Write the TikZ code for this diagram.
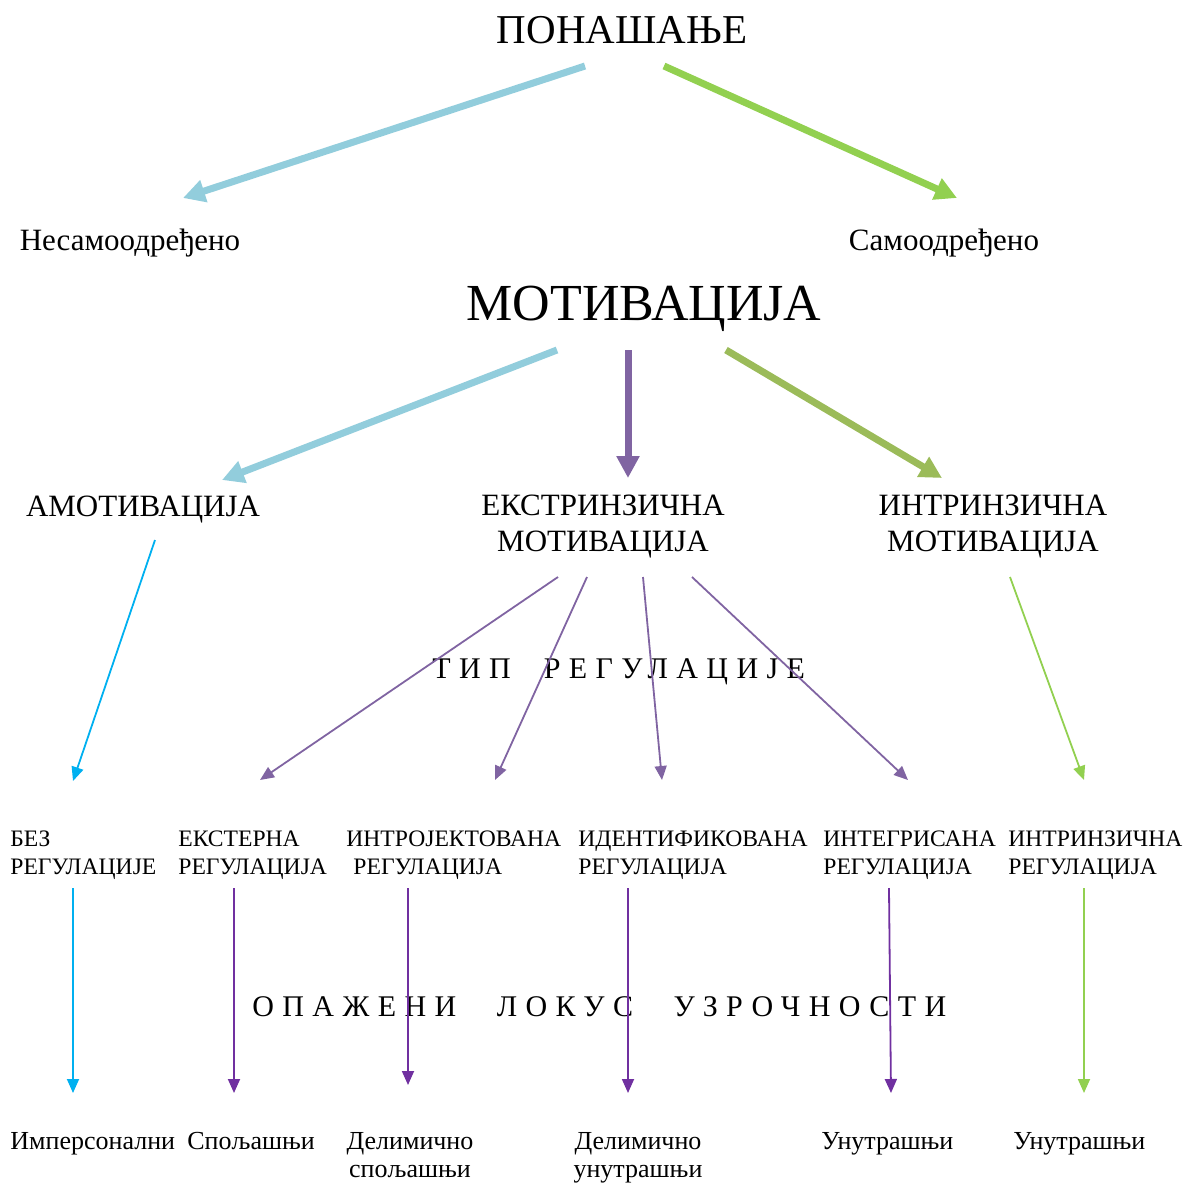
\documentclass[tikz,border=0pt]{standalone}
\usepackage{fontspec}
\setmainfont{Liberation Serif}
\newfontfamily\spacedfont[LetterSpace=28]{Liberation Serif}
\usetikzlibrary{arrows.meta, calc, positioning}
\definecolor{skyblue}{HTML}{92CDDC}
\definecolor{leafgreen}{HTML}{92D050}
\definecolor{lavender}{HTML}{8064A2}
\definecolor{olivegreen}{HTML}{9BBB59}
\definecolor{cyanline}{HTML}{00B0F0}
\definecolor{plum}{HTML}{7030A0}

\begin{document}
\begin{tikzpicture}[x=0.5pt,y=-0.5pt,inner sep=0pt,
    big/.style={line width=3.5pt,-{Triangle[length=11pt,width=11pt]}},
    slim/.style={line width=0.9pt,-{Triangle[length=7pt,width=6pt]}},
    head/.style={anchor=base,font=\fontsize{20.5}{24}\selectfont},
    level/.style={font=\fontsize{15.5}{18}\selectfont},
    reg/.style={anchor=north west,align=left,font=\fontsize{11.8}{14}\selectfont},
    locus/.style={font=\fontsize{13}{14}\selectfont}]

  \useasboundingbox (0,0) rectangle (1191,1184);

  \node[head]  (pon) at (622,43)  {ПОНАШАЊЕ};
  \node[level,anchor=base] (nes) at (130,250) {Несамоодређено};
  \node[level,anchor=base] (sam) at (944,250) {Самоодређено};
  \node[anchor=base,font=\fontsize{26}{30}\selectfont] (mot) at (644,320) {МОТИВАЦИЈА};

  \node[level,anchor=base]  (amot) at (143,516) {АМОТИВАЦИЈА};
  \node[level,anchor=north,align=center] (eks) at (603,495) {ЕКСТРИНЗИЧНА\\МОТИВАЦИЈА};
  \node[level,anchor=north,align=center] (int) at (993,495) {ИНТРИНЗИЧНА\\МОТИВАЦИЈА};

  \node[anchor=base west,font=\fontsize{15}{18}\spacedfont] (tip) at (432,678) {ТИП\hspace{1.1em}РЕГУЛАЦИЈЕ};

  \node[reg] (bez)   at (10,830)  {БЕЗ\\РЕГУЛАЦИЈЕ};
  \node[reg] (ekst)  at (178,830) {ЕКСТЕРНА\\РЕГУЛАЦИЈА};
  \node[reg] (intro) at (346,830) {ИНТРОЈЕКТОВАНА\\\hspace*{0.3em}РЕГУЛАЦИЈА};
  \node[reg] (ident) at (578,830) {ИДЕНТИФИКОВАНА\\РЕГУЛАЦИЈА};
  \node[reg] (integ) at (823,830) {ИНТЕГРИСАНА\\РЕГУЛАЦИЈА};
  \node[reg] (intr)  at (1008,830) {ИНТРИНЗИЧНА\\РЕГУЛАЦИЈА};

  \node[anchor=base west,font=\fontsize{15}{18}\spacedfont] (lok) at (252,1016) {ОПАЖЕНИ\hspace{1.35em}ЛОКУС\hspace{1.35em}УЗРОЧНОСТИ};

  \node[locus,anchor=north west] (imp) at (10,1132)  {Имперсонални};
  \node[locus,anchor=north west] (spo) at (187,1132) {Спољашњи};
  \node[locus,anchor=north,align=center] (dsp) at (410,1132) {Делимично\\спољашњи};
  \node[locus,anchor=north,align=center] (dun) at (638,1132) {Делимично\\унутрашњи};
  \node[locus,anchor=north west] (un1) at (821,1132)  {Унутрашњи};
  \node[locus,anchor=north west] (un2) at (1013,1132) {Унутрашњи};

  \draw[big,skyblue]    ($(pon.base)+(-37,23)$) -- ($(nes.base)+(53,-52)$);
  \draw[big,leafgreen]  ($(pon.base)+(42,23)$)  -- ($(sam.base)+(13,-52)$);
  \draw[big,skyblue]    ($(mot.base)+(-87,30)$) -- ($(amot.base)+(79,-36)$);
  \draw[big,lavender]   ($(mot.base)+(-16,30)$) -- ($(eks.north)+(25,-17)$);
  \draw[big,olivegreen] ($(mot.base)+(82,30)$)  -- ($(int.north)+(-51,-17)$);

  \draw[slim,cyanline]  ($(amot.base)+(12,24)$) -- ($(bez.north west)+(63,-49)$);
  \draw[slim,lavender]  ($(eks.north)+(-45,82)$) -- ($(ekst.north west)+(82,-50)$);
  \draw[slim,lavender]  ($(eks.north)+(-16,82)$) -- ($(intro.north west)+(149,-50)$);
  \draw[slim,lavender]  ($(eks.north)+(40,82)$)  -- ($(ident.north west)+(84,-50)$);
  \draw[slim,lavender]  ($(eks.north)+(89,82)$)  -- ($(integ.north west)+(85,-50)$);
  \draw[slim,leafgreen] ($(int.north)+(17,82)$)  -- ($(intr.north west)+(76,-50)$);

  \draw[slim,cyanline]  ($(bez.north west)+(63,58)$)   -- ($(imp.north west)+(63,-39)$);
  \draw[slim,plum]      ($(ekst.north west)+(56,58)$)  -- ($(spo.north west)+(47,-39)$);
  \draw[slim,plum]      ($(intro.north west)+(62,58)$) -- ($(dsp.north)+(-2,-47)$);
  \draw[slim,plum]      ($(ident.north west)+(50,58)$) -- ($(dun.north)+(-10,-39)$);
  \draw[slim,plum]      ($(integ.north west)+(66,58)$) -- ($(un1.north west)+(70,-39)$);
  \draw[slim,leafgreen] ($(intr.north west)+(76,58)$)  -- ($(un2.north west)+(71,-39)$);
\end{tikzpicture}
\end{document}
